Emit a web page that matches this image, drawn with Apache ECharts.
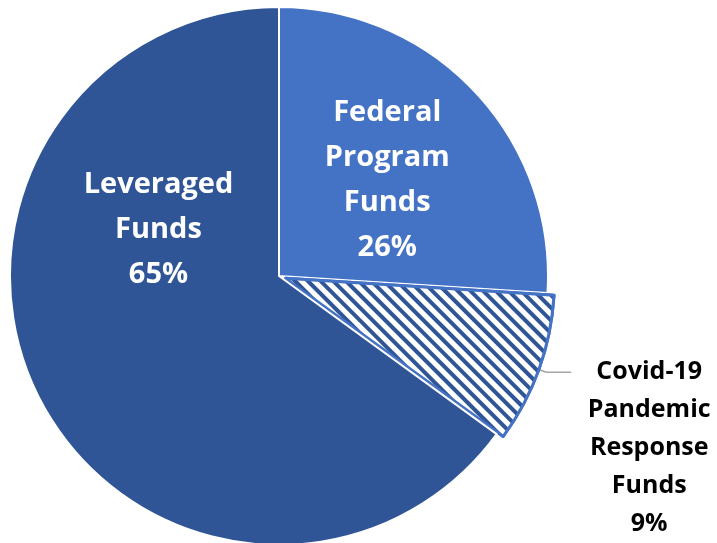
<!DOCTYPE html>
<html>
<head>
<meta charset="utf-8">
<script src="https://cdn.jsdelivr.net/npm/echarts@6/dist/echarts.min.js"></script>
<style>html,body{margin:0;padding:0;background:#fff}#c{width:717px;height:543px}</style>
</head>
<body>
<div id="c"></div>
<script>
const categories = ['Federal Program Funds', 'Covid-19 Pandemic Response Funds', 'Leveraged Funds'];
const labelLines = [['Federal', 'Program', 'Funds'], ['Covid-19', 'Pandemic', 'Response', 'Funds'], ['Leveraged', 'Funds']];
const values = [26, 9, 65];
const colors = ['#4472C4', '#FFFFFF', '#2F5597'];

const chart = echarts.init(document.getElementById('c'), null, {renderer: 'canvas'});
const font = '"Open Sans", Lato, sans-serif';

const data = categories.map((name, i) => {
  const item = {name: name, value: values[i], itemStyle: {color: colors[i], borderColor: '#fff', borderWidth: 2}};
  if (i === 1) {
    item.selected = true;
    item.itemStyle = {
      color: '#fff', borderColor: '#4472C4', borderWidth: 3,
      decal: {symbol: 'rect', dashArrayX: [1, 0], dashArrayY: [4, 4.5], rotation: Math.PI / 4, color: '#2F5597', backgroundColor: '#fff', symbolSize: 1}
    };
    item.label = {
      position: 'outside',
      formatter: p => labelLines[1].map(t => '{c|' + t + '}').join('\n') + '\n{c|' + p.value + '%}',
      padding: [152, 0, 0, 0],
      rich: {c: {fontFamily: font, fontWeight: 'bold', fontSize: 25, lineHeight: 38, color: '#000', width: 146, align: 'center'}}
    };
    item.labelLine = {show: true, length: 8, length2: 25, lineStyle: {color: '#A6A6A6', width: 1.5}};
  } else {
    item.label = {
      position: 'inside',
      formatter: p => labelLines[i].join('\n') + '\n' + p.value + '%',
      fontFamily: font, fontWeight: 'bold', fontSize: 29, lineHeight: 45, color: '#fff', align: 'center',
      offset: i === 2 ? [2, -109] : [8, -2]
    };
    item.labelLine = {show: false};
  }
  return item;
});

chart.setOption({
  animation: false,
  series: [{
    type: 'pie',
    center: [279, 276],
    radius: 269,
    startAngle: 90,
    clockwise: true,
    selectedMode: 'single',
    selectedOffset: 7,
    avoidLabelOverlap: false,
    emphasis: {disabled: true},
    select: {itemStyle: {}},
    data: data
  }]
});
</script>
</body>
</html>
